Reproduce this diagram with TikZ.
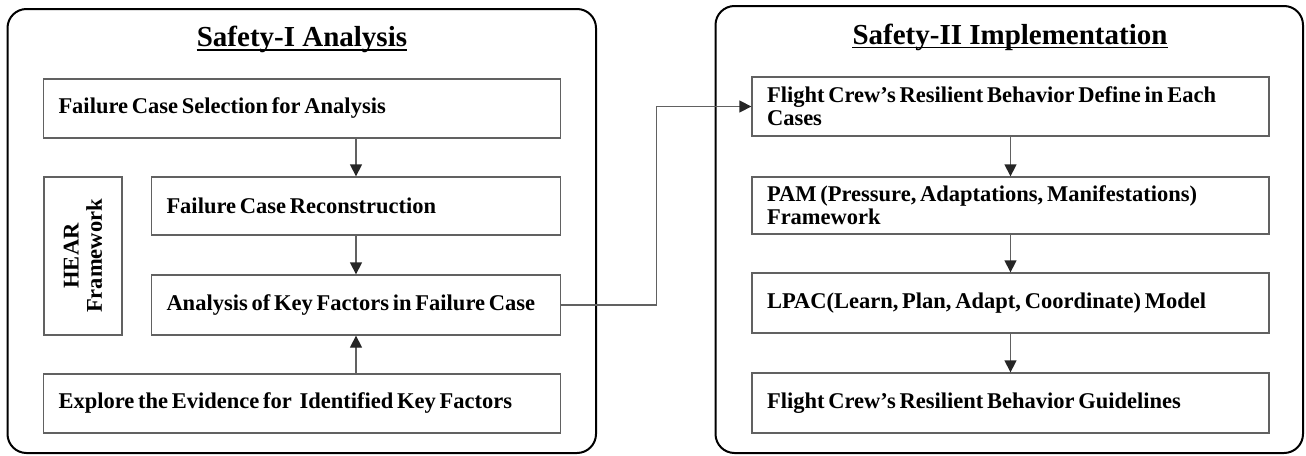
\documentclass[tikz,border=0pt]{standalone}
\usepackage{fontspec}
\setmainfont{Liberation Serif}
\usetikzlibrary{arrows.meta}
\newcommand\bodyfnt{\fontsize{22.5}{23.3}\selectfont\bfseries}
\newcommand\headfnt{\fontsize{29}{30}\selectfont\bfseries}
\newcommand\tightspaces{\spaceskip=3.8pt plus 1pt minus 0.5pt\xspaceskip=3.8pt plus 1pt\relax}
\begin{document}
\begin{tikzpicture}[x=1pt,y=-1pt,
  panel/.style={draw=black, line width=2pt, rounded corners=19pt},
  stepbox/.style={draw=black!62, line width=1.3pt, minimum height=#1,
    text width=487pt, inner xsep=15pt, inner ysep=0pt, align=flush left,
    font=\bodyfnt, execute at begin node=\tightspaces},
  stepbox/.default=59pt,
  shortbox/.style={stepbox=#1, text width=379pt},
  heading/.style={font=\headfnt, inner sep=0pt, anchor=base},
  uline/.style={draw=black, line width=1.4pt},
  link/.style={draw=black!62, line width=1.3pt},
  arr/.style={link, -{Triangle[length=12pt,width=12pt,color=black!85]}}
]
\useasboundingbox (0,0) rectangle (1306,455);

% outer panels
\draw[panel] (7.5,9) rectangle (596,453);
\draw[panel] (715.5,6) rectangle (1303,453);

% headings
\node[heading] (h1) at (302,46.7) {Safety-I Analysis};
\draw[uline] ([yshift=-3.4pt]h1.base west) -- ([yshift=-3.4pt]h1.base east);
\node[heading] (h2) at (1010,44) {Safety-II Implementation};
\draw[uline] ([yshift=-3.4pt]h2.base west) -- ([yshift=-3.4pt]h2.base east);

% Safety-I steps
\node[stepbox=59pt] (b1) at (302,108.5) {Failure Case Selection for Analysis};
\node[shortbox=58pt] (b2) at (356,206) {Failure Case Reconstruction};
\node[shortbox=60pt] (b3) at (356,305) {Analysis of Key Factors in Failure Case};
\node[stepbox=59pt] (b4) at (302,403.5) {Explore the Evidence for\ \ Identified Key Factors};
\node[draw=black!62, line width=1.3pt, minimum width=158pt, minimum height=78pt,
  inner sep=0pt, rotate=90, align=center, font=\bodyfnt] (hear) at (83,256)
  {HEAR\\Framework};

% Safety-II steps
\node[stepbox=59pt] (r1) at (1010.5,106.5) {Flight Crew's Resilient Behavior Define in Each\\Cases};
\node[stepbox=57pt] (r2) at (1010.5,205.5) {PAM (Pressure, Adaptations, Manifestations)\\Framework};
\node[stepbox=60pt] (r3) at (1010.5,303) {LPAC(Learn, Plan, Adapt, Coordinate) Model};
\node[stepbox=60pt] (r4) at (1010.5,403) {Flight Crew's Resilient Behavior Guidelines};

% connectors
\draw[arr] (b1.south -| b2.north) -- (b2.north);
\draw[arr] (b2.south) -- (b3.north);
\draw[arr] (b4.north -| b3.south) -- (b3.south);
\draw[arr] (b3.east) -- ++(95,0) |- (r1.west);
\draw[arr] (r1.south) -- (r2.north);
\draw[arr] (r2.south) -- (r3.north);
\draw[arr] (r3.south) -- (r4.north);
\end{tikzpicture}
\end{document}
